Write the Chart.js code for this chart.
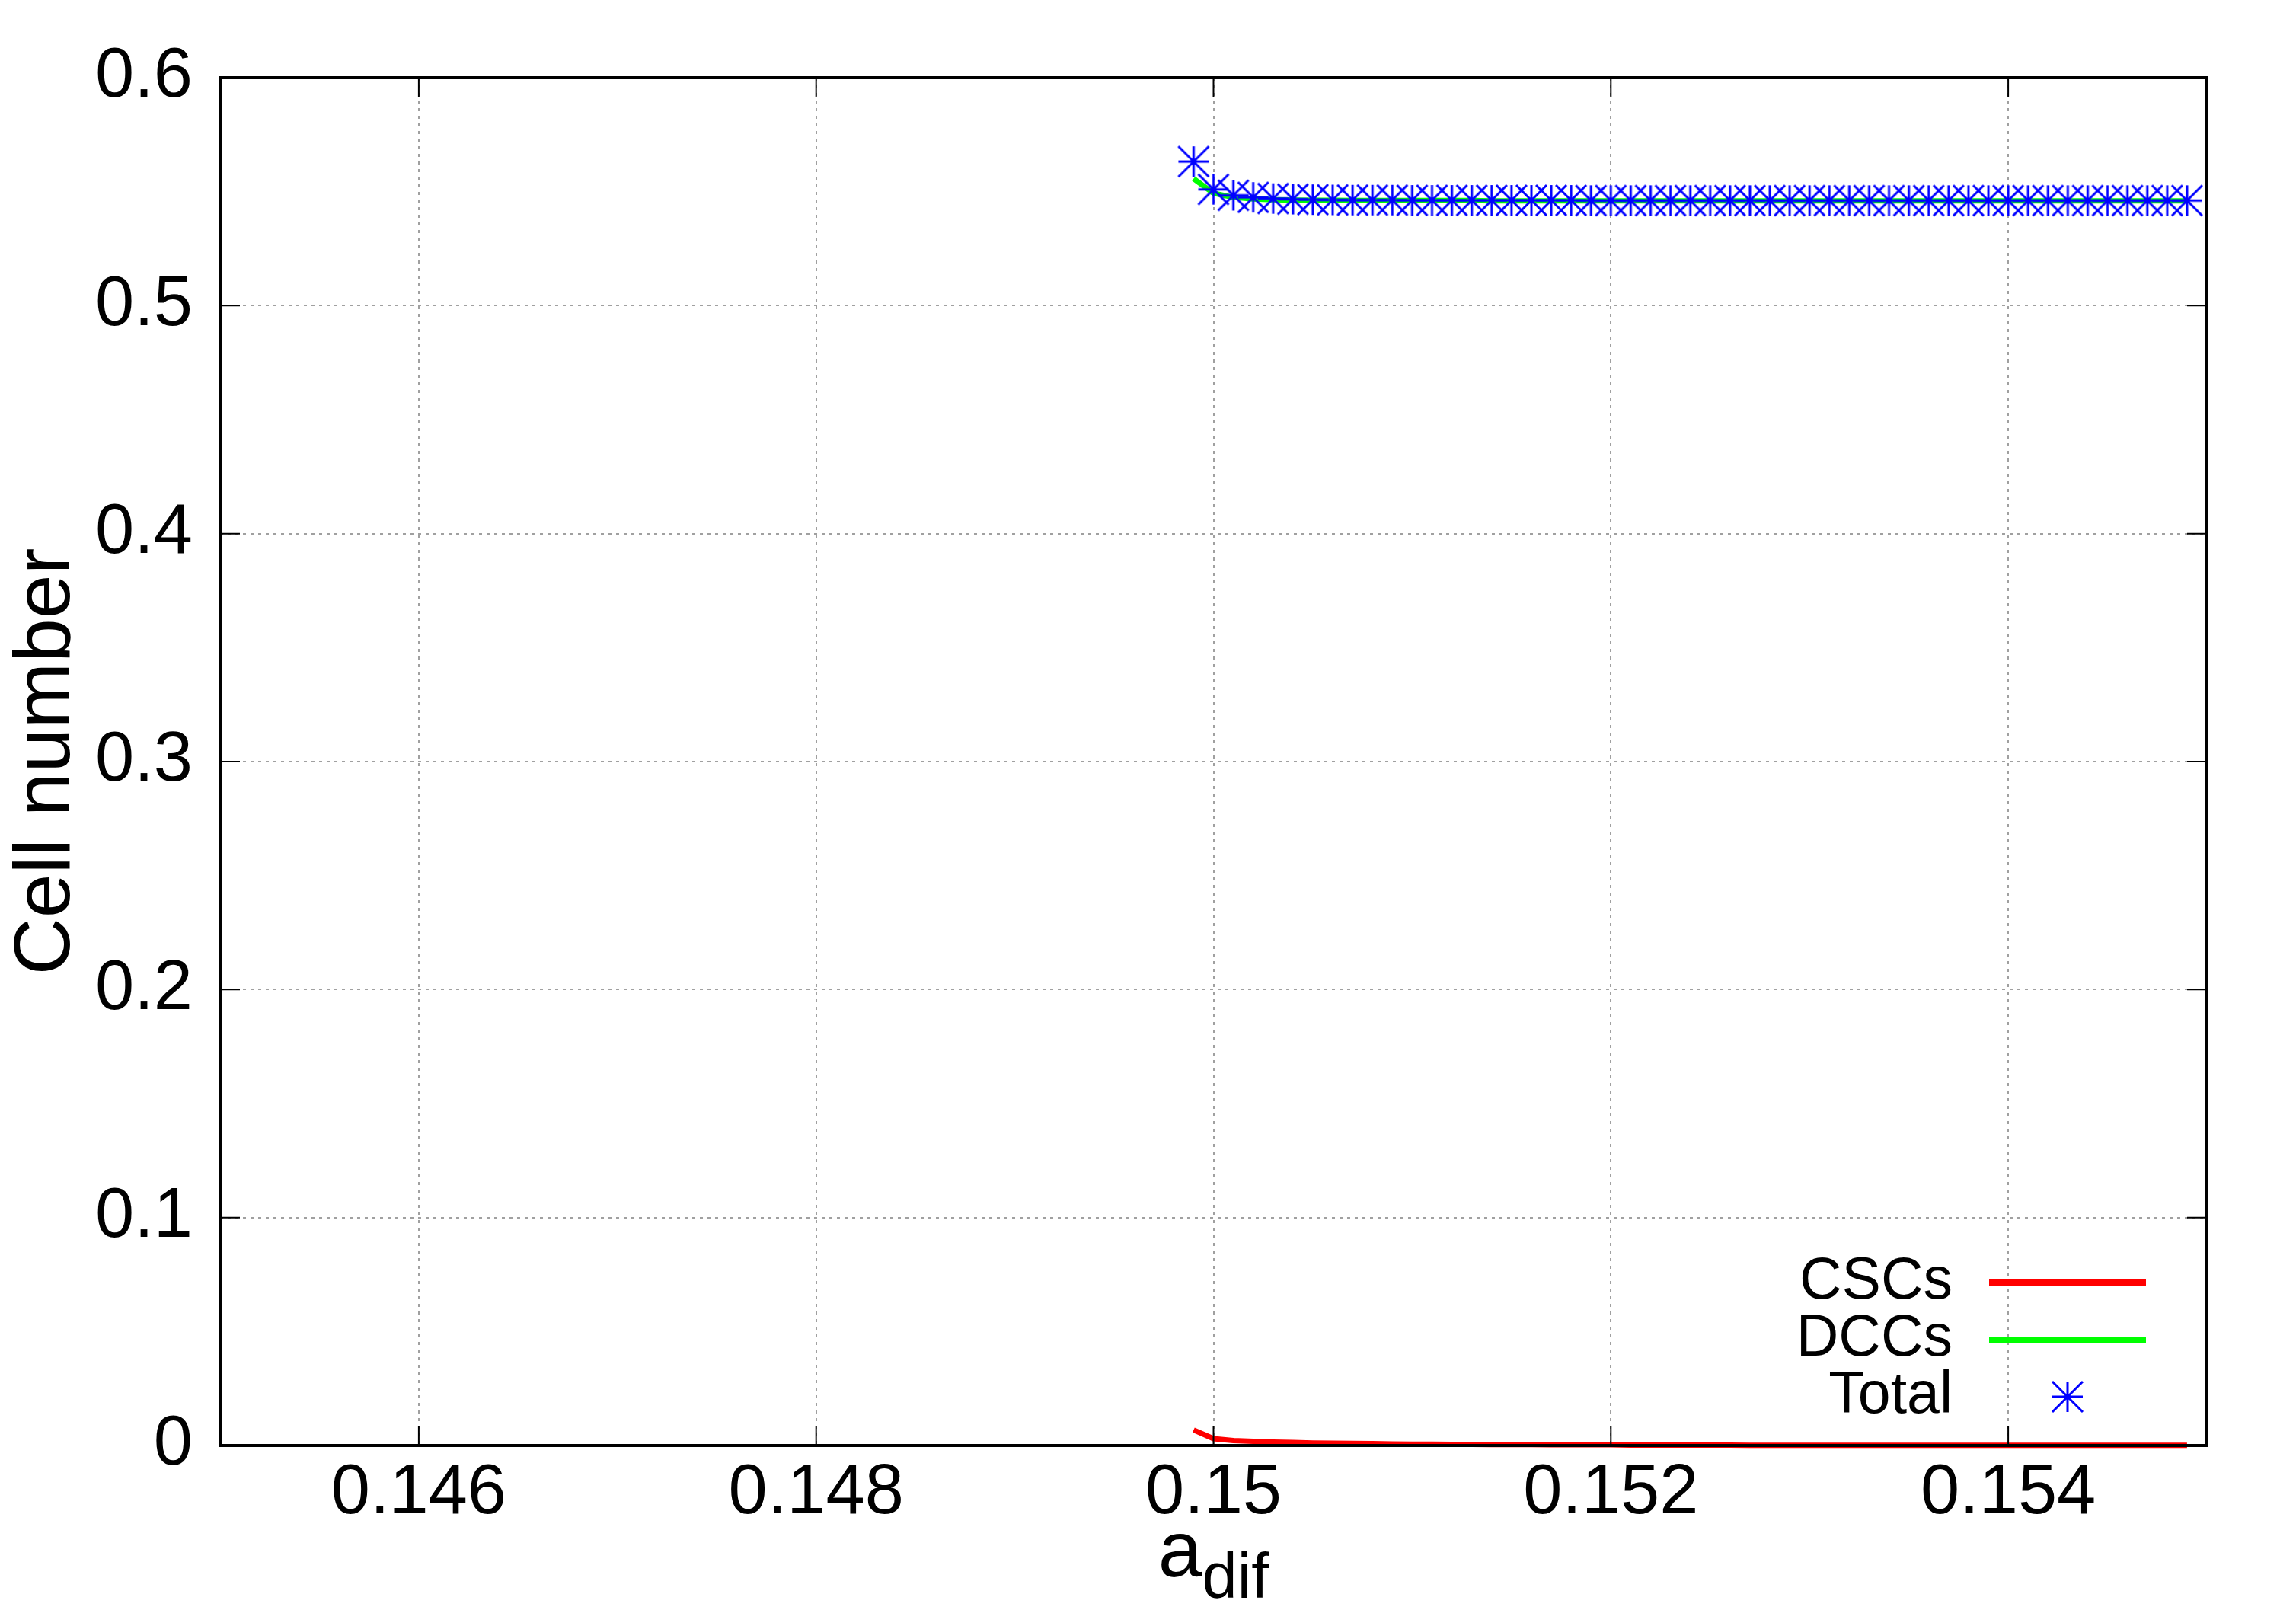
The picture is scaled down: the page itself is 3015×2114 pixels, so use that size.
<!DOCTYPE html>
<html>
<head>
<meta charset="utf-8">
<script src="https://cdn.jsdelivr.net/npm/chart.js@4.4.1/dist/chart.umd.min.js"></script>
<style>
  html, body { margin: 0; padding: 0; background: #fff; }
  #wrap { width: 3015px; height: 2114px; }
</style>
</head>
<body>
<div id="wrap"><canvas id="cells" width="3015" height="2114"></canvas></div>
<script>
// a_dif values (x)
const aDif = [
  0.1499, 0.1500, 0.1501, 0.1502, 0.1503, 0.1504, 0.1505, 0.1506, 0.1507, 0.1508,
  0.1509, 0.1510, 0.1511, 0.1512, 0.1513, 0.1514, 0.1515, 0.1516, 0.1517, 0.1518,
  0.1519, 0.1520, 0.1521, 0.1522, 0.1523, 0.1524, 0.1525, 0.1526, 0.1527, 0.1528,
  0.1529, 0.1530, 0.1531, 0.1532, 0.1533, 0.1534, 0.1535, 0.1536, 0.1537, 0.1538,
  0.1539, 0.1540, 0.1541, 0.1542, 0.1543, 0.1544, 0.1545, 0.1546, 0.1547, 0.1548,
  0.1549
];
const cscs = [
  0.0068, 0.0030, 0.0022, 0.0018, 0.0015, 0.0013, 0.0011, 0.0010, 0.0009, 0.0008,
  0.0007, 0.0006, 0.0006, 0.0005, 0.0005, 0.0004, 0.0004, 0.0004, 0.0003, 0.0003,
  0.0003, 0.0003, 0.0002, 0.0002, 0.0002, 0.0002, 0.0002, 0.0002, 0.0001, 0.0001,
  0.0001, 0.0001, 0.0001, 0.0001, 0.0001, 0.0001, 0.0001, 0.0001, 0.0001, 0.0001,
  0.0001, 0.0001, 0.0001, 0.0001, 0.0001, 0.0001, 0.0001, 0.0001, 0.0001, 0.0001,
  0.0001
];
const dccs = [
  0.5557, 0.5493, 0.5475, 0.5468, 0.5465, 0.5463, 0.5462, 0.5462, 0.5461, 0.5461,
  0.5461, 0.5461, 0.5461, 0.5461, 0.5461, 0.5460, 0.5460, 0.5460, 0.5460, 0.5460,
  0.5460, 0.5460, 0.5460, 0.5460, 0.5460, 0.5460, 0.5460, 0.5460, 0.5460, 0.5460,
  0.5460, 0.5460, 0.5460, 0.5460, 0.5460, 0.5460, 0.5460, 0.5460, 0.5460, 0.5460,
  0.5460, 0.5460, 0.5460, 0.5460, 0.5460, 0.5460, 0.5460, 0.5460, 0.5460, 0.5460,
  0.5460
];
const total = [
  0.5632, 0.5510, 0.5484, 0.5475, 0.5470, 0.5467, 0.5465, 0.5464, 0.5463, 0.5463,
  0.5463, 0.5462, 0.5462, 0.5462, 0.5462, 0.5462, 0.5462, 0.5462, 0.5462, 0.5462,
  0.5461, 0.5461, 0.5461, 0.5461, 0.5461, 0.5461, 0.5461, 0.5461, 0.5461, 0.5461,
  0.5461, 0.5461, 0.5461, 0.5461, 0.5461, 0.5461, 0.5461, 0.5461, 0.5461, 0.5461,
  0.5461, 0.5461, 0.5461, 0.5461, 0.5461, 0.5461, 0.5461, 0.5461, 0.5461, 0.5461,
  0.5461
];
const xTicks = [0.146, 0.148, 0.15, 0.152, 0.154];
const yTicks = [0, 0.1, 0.2, 0.3, 0.4, 0.5, 0.6];

const FONT = "'Liberation Sans', Arial, Helvetica, sans-serif";

// gnuplot-like asterisk marker (+ and x in a square)
function makeStar(color) {
  const c = document.createElement('canvas');
  c.width = 44; c.height = 44;
  const g = c.getContext('2d');
  g.strokeStyle = color;
  g.lineWidth = 3;
  g.beginPath();
  g.moveTo(2, 22); g.lineTo(42, 22);
  g.moveTo(22, 2); g.lineTo(22, 42);
  g.moveTo(2, 2); g.lineTo(42, 42);
  g.moveTo(42, 2); g.lineTo(2, 42);
  g.stroke();
  return c;
}
const star = makeStar('#0000ff');

function pts(ys) {
  return aDif.map((x, i) => ({ x: x, y: ys[i] }));
}

// border, inward ticks, x title with subscript, legend
const gnuplotFrame = {
  id: 'gnuplotFrame',
  afterDraw(chart) {
    const ctx = chart.ctx;
    const a = chart.chartArea;
    const xs = chart.scales.x, ys = chart.scales.y;
    ctx.save();
    ctx.strokeStyle = '#000';
    ctx.lineWidth = 2;
    ctx.beginPath();
    xTicks.forEach(v => {
      const px = xs.getPixelForValue(v);
      ctx.moveTo(px, a.bottom); ctx.lineTo(px, a.bottom - 26);
      ctx.moveTo(px, a.top); ctx.lineTo(px, a.top + 26);
    });
    yTicks.forEach(v => {
      const py = ys.getPixelForValue(v);
      ctx.moveTo(a.left, py); ctx.lineTo(a.left + 26, py);
      ctx.moveTo(a.right, py); ctx.lineTo(a.right - 26, py);
    });
    ctx.stroke();
    ctx.lineWidth = 4;
    ctx.strokeRect(a.left, a.top, a.right - a.left, a.bottom - a.top);

    // x axis title a_dif
    ctx.fillStyle = '#000';
    ctx.textBaseline = 'alphabetic';
    ctx.textAlign = 'left';
    ctx.font = '104px ' + FONT;
    const wA = ctx.measureText('a').width;
    ctx.font = '83px ' + FONT;
    const wSub = ctx.measureText('dif').width;
    const x0 = (a.left + a.right) / 2 - (wA + wSub) / 2;
    ctx.font = '104px ' + FONT;
    ctx.fillText('a', x0, 2070);
    ctx.font = '83px ' + FONT;
    ctx.fillText('dif', x0 + wA, 2098);

    // legend
    const rows = [1684, 1759, 1834];
    ctx.font = '77px ' + FONT;
    ctx.textAlign = 'right';
    ctx.textBaseline = 'middle';
    chart.data.datasets.forEach((ds, i) => {
      const y = rows[i];
      ctx.fillStyle = '#000';
      ctx.fillText(ds.label, 2564, y);
      if (ds.showLine) {
        ctx.strokeStyle = ds.borderColor;
        ctx.lineWidth = 8;
        ctx.beginPath();
        ctx.moveTo(2612, y); ctx.lineTo(2818, y);
        ctx.stroke();
      } else {
        ctx.drawImage(star, 2715 - 22, y - 22);
      }
    });
    ctx.restore();
  }
};

new Chart('cells', {
  type: 'scatter',
  data: {
    datasets: [{
      label: 'CSCs',
      data: pts(cscs),
      showLine: true,
      borderColor: '#ff0000',
      borderWidth: 7,
      pointRadius: 0,
      clip: 12,
      order: 2
    }, {
      label: 'DCCs',
      data: pts(dccs),
      showLine: true,
      borderColor: '#00ff00',
      borderWidth: 7,
      pointRadius: 0,
      clip: 12,
      order: 1
    }, {
      label: 'Total',
      data: pts(total),
      showLine: false,
      pointStyle: star,
      pointRadius: 20,
      clip: 30,
      order: 0
    }]
  },
  options: {
    responsive: false,
    animation: false,
    devicePixelRatio: 1,
    layout: { padding: { left: 0, top: 102, right: 117, bottom: 0 } },
    plugins: {
      legend: { display: false },
      tooltip: { enabled: false }
    },
    scales: {
      x: {
        type: 'linear',
        min: 0.145,
        max: 0.155,
        afterBuildTicks: s => { s.ticks = xTicks.map(v => ({ value: v })); },
        afterFit: s => { s.height = 216; },
        ticks: {
          color: '#000',
          padding: 8,
          font: { family: FONT, size: 92 },
          maxRotation: 0,
          callback: v => String(v)
        },
        grid: { color: '#a0a0a0', lineWidth: 2, drawTicks: false },
        border: { display: false, dash: [4, 6] }
      },
      y: {
        type: 'linear',
        min: 0,
        max: 0.6,
        afterBuildTicks: s => { s.ticks = yTicks.map(v => ({ value: v })); },
        afterFit: s => { s.width = 289; },
        ticks: {
          color: '#000',
          padding: 36,
          font: { family: FONT, size: 92 },
          callback: v => String(v)
        },
        grid: { color: '#a0a0a0', lineWidth: 2, drawTicks: false },
        border: { display: false, dash: [4, 6] },
        title: {
          display: true,
          text: 'Cell number',
          color: '#000',
          font: { family: FONT, size: 104 },
          padding: { top: 0, bottom: 0 }
        }
      }
    }
  },
  plugins: [gnuplotFrame]
});
</script>
</body>
</html>
